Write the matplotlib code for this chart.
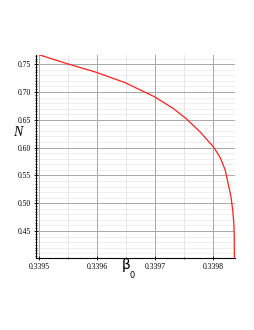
import numpy as np
import matplotlib
matplotlib.use("Agg")
import matplotlib.pyplot as plt
from matplotlib.ticker import MultipleLocator, FixedLocator

# values
beta0 = [0.339500, 0.339548, 0.339597, 0.339648, 0.339700, 0.339709,
         0.339732, 0.339755, 0.339778, 0.339801, 0.339812, 0.339821,
         0.339826, 0.339831, 0.339834, 0.339836, 0.3398367, 0.3398369]
N_vals = [0.767, 0.751, 0.736, 0.717, 0.691, 0.685,
          0.670, 0.651, 0.628, 0.601, 0.583, 0.560,
          0.536, 0.512, 0.488, 0.464, 0.440, 0.403]

x_ticks = [0.3395, 0.3396, 0.3397, 0.3398]
x_tick_labels = ["0.3395", "0.3396", "0.3397", "0.3398"]
y_ticks = [0.45, 0.50, 0.55, 0.60, 0.65, 0.70, 0.75]
y_tick_labels = ["0.45", "0.50", "0.55", "0.60", "0.65", "0.70", "0.75"]

fig = plt.figure(figsize=(2.55, 3.3), dpi=100)
ax = fig.add_axes([36 / 255, 1 - 258 / 330, 199 / 255, 203.3 / 330])

ax.plot(beta0, N_vals, color="#ff2020", lw=0.9)

ax.set_xlim(0.339495, 0.339838)
ax.set_ylim(0.4015, 0.767)

ax.xaxis.set_major_locator(FixedLocator(x_ticks))
ax.set_xticklabels(x_tick_labels)
ax.xaxis.set_minor_locator(MultipleLocator(0.00005))
ax.yaxis.set_major_locator(FixedLocator(y_ticks))
ax.set_yticklabels(y_tick_labels)
ax.yaxis.set_minor_locator(MultipleLocator(0.005))

ax.grid(which="major", color="#a8a8a8", lw=0.7)
ax.grid(which="minor", axis="x", color="#e6e6e6", lw=0.7)
# lighter horizontal lines every 0.01
for v in np.arange(0.41, 0.765, 0.01):
    ax.axhline(v, color="#ececec", lw=0.6, zorder=0)

for s in ["top", "right"]:
    ax.spines[s].set_visible(False)
for s in ["left", "bottom"]:
    ax.spines[s].set_linewidth(0.8)

ax.tick_params(which="major", length=3, width=0.6, direction="inout", pad=2)
ax.tick_params(which="minor", length=1.8, width=0.5, direction="inout")
ax.tick_params(axis="x", which="minor", length=2)
for lab in ax.get_xticklabels() + ax.get_yticklabels():
    lab.set_fontfamily("Liberation Serif")
    lab.set_fontsize(5.5)

fig.text(18 / 255, 1 - 133 / 330, "N", fontsize=10, style="italic",
         family="Liberation Serif", ha="center", va="center")
fig.text(126 / 255, 1 - 265 / 330, "β", fontsize=10,
         family="DejaVu Sans", ha="center", va="center")
fig.text(132 / 255, 1 - 275.5 / 330, "0", fontsize=6,
         family="DejaVu Sans", ha="center", va="center")

fig.savefig("out.png", dpi=100)
